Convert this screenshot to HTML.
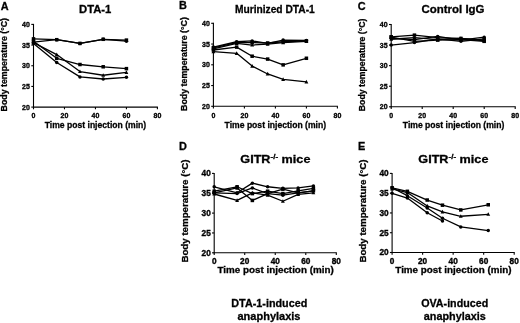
<!DOCTYPE html>
<html><head><meta charset="utf-8"><style>
html,body{margin:0;padding:0;background:#fff;width:520px;height:323px;overflow:hidden}
svg{display:block;will-change:transform}
text{font-family:"Liberation Sans", sans-serif;fill:#000;stroke:#000;stroke-width:0.3px}
.tk{stroke-width:0.35px}
</style></head><body>
<svg width="520" height="323" viewBox="0 0 520 323">
<line x1="33.5" y1="23.9" x2="33.5" y2="107.6" stroke="#000" stroke-width="1.1"/>
<line x1="33.0" y1="107.1" x2="157.9" y2="107.1" stroke="#000" stroke-width="1.1"/>
<line x1="31.3" y1="107.1" x2="33.5" y2="107.1" stroke="#000" stroke-width="1.1"/>
<text x="29.9" y="109.75" font-size="8.0" font-weight="bold" text-anchor="end" textLength="7.8" lengthAdjust="spacingAndGlyphs" class="tk">20</text>
<line x1="31.3" y1="86.425" x2="33.5" y2="86.425" stroke="#000" stroke-width="1.1"/>
<text x="29.9" y="89.08" font-size="8.0" font-weight="bold" text-anchor="end" textLength="7.8" lengthAdjust="spacingAndGlyphs" class="tk">25</text>
<line x1="31.3" y1="65.75" x2="33.5" y2="65.75" stroke="#000" stroke-width="1.1"/>
<text x="29.9" y="68.4" font-size="8.0" font-weight="bold" text-anchor="end" textLength="7.8" lengthAdjust="spacingAndGlyphs" class="tk">30</text>
<line x1="31.3" y1="45.075" x2="33.5" y2="45.075" stroke="#000" stroke-width="1.1"/>
<text x="29.9" y="47.73" font-size="8.0" font-weight="bold" text-anchor="end" textLength="7.8" lengthAdjust="spacingAndGlyphs" class="tk">35</text>
<line x1="31.3" y1="24.400000000000006" x2="33.5" y2="24.400000000000006" stroke="#000" stroke-width="1.1"/>
<text x="29.9" y="27.05" font-size="8.0" font-weight="bold" text-anchor="end" textLength="7.8" lengthAdjust="spacingAndGlyphs" class="tk">40</text>
<line x1="33.5" y1="107.1" x2="33.5" y2="109.3" stroke="#000" stroke-width="1.1"/>
<text x="33.5" y="117.9" font-size="8.0" font-weight="bold" text-anchor="middle" textLength="3.9" lengthAdjust="spacingAndGlyphs" class="tk">0</text>
<line x1="64.475" y1="107.1" x2="64.475" y2="109.3" stroke="#000" stroke-width="1.1"/>
<text x="64.47" y="117.9" font-size="8.0" font-weight="bold" text-anchor="middle" textLength="7.8" lengthAdjust="spacingAndGlyphs" class="tk">20</text>
<line x1="95.45" y1="107.1" x2="95.45" y2="109.3" stroke="#000" stroke-width="1.1"/>
<text x="95.45" y="117.9" font-size="8.0" font-weight="bold" text-anchor="middle" textLength="7.8" lengthAdjust="spacingAndGlyphs" class="tk">40</text>
<line x1="126.425" y1="107.1" x2="126.425" y2="109.3" stroke="#000" stroke-width="1.1"/>
<text x="126.42" y="117.9" font-size="8.0" font-weight="bold" text-anchor="middle" textLength="7.8" lengthAdjust="spacingAndGlyphs" class="tk">60</text>
<line x1="157.4" y1="107.1" x2="157.4" y2="109.3" stroke="#000" stroke-width="1.1"/>
<text x="157.4" y="117.9" font-size="8.0" font-weight="bold" text-anchor="middle" textLength="7.8" lengthAdjust="spacingAndGlyphs" class="tk">80</text>
<text x="44.7" y="128.0" font-size="9.5" font-weight="bold" textLength="101.5" lengthAdjust="spacingAndGlyphs">Time post injection (min)</text>
<text transform="translate(7.2,111.4) rotate(-90)" x="0" y="0" font-size="9.0" font-weight="bold" textLength="93.4" lengthAdjust="spacingAndGlyphs">Body temperature (°C)</text>
<polyline points="33.50,38.87 56.73,39.70 79.96,43.42 103.19,39.29 126.42,40.11" fill="none" stroke="#000" stroke-width="1.3" stroke-linejoin="round"/>
<rect x="31.75" y="37.12" width="3.5" height="3.5" fill="#000"/>
<rect x="54.98" y="37.95" width="3.5" height="3.5" fill="#000"/>
<rect x="78.21" y="41.67" width="3.5" height="3.5" fill="#000"/>
<rect x="101.44" y="37.54" width="3.5" height="3.5" fill="#000"/>
<rect x="124.67" y="38.36" width="3.5" height="3.5" fill="#000"/>
<polyline points="33.50,42.18 56.73,39.70 79.96,43.42 103.19,39.29 126.42,41.15" fill="none" stroke="#000" stroke-width="1.3" stroke-linejoin="round"/>
<circle cx="33.50" cy="42.18" r="1.75" fill="#000"/>
<circle cx="56.73" cy="39.70" r="1.75" fill="#000"/>
<circle cx="79.96" cy="43.42" r="1.75" fill="#000"/>
<circle cx="103.19" cy="39.29" r="1.75" fill="#000"/>
<circle cx="126.42" cy="41.15" r="1.75" fill="#000"/>
<polyline points="33.50,41.35 56.73,58.31 79.96,64.51 103.19,66.78 126.42,68.64" fill="none" stroke="#000" stroke-width="1.3" stroke-linejoin="round"/>
<rect x="31.75" y="39.60" width="3.5" height="3.5" fill="#000"/>
<rect x="54.98" y="56.56" width="3.5" height="3.5" fill="#000"/>
<rect x="78.21" y="62.76" width="3.5" height="3.5" fill="#000"/>
<rect x="101.44" y="65.03" width="3.5" height="3.5" fill="#000"/>
<rect x="124.67" y="66.89" width="3.5" height="3.5" fill="#000"/>
<polyline points="33.50,42.59 56.73,54.59 79.96,71.54 103.19,75.26 126.42,72.37" fill="none" stroke="#000" stroke-width="1.3" stroke-linejoin="round"/>
<polygon points="33.50,40.49 31.57,44.17 35.42,44.17" fill="#000"/>
<polygon points="56.73,52.49 54.81,56.16 58.66,56.16" fill="#000"/>
<polygon points="79.96,69.44 78.04,73.11 81.89,73.11" fill="#000"/>
<polygon points="103.19,73.16 101.27,76.84 105.12,76.84" fill="#000"/>
<polygon points="126.42,70.27 124.50,73.94 128.35,73.94" fill="#000"/>
<polyline points="33.50,43.42 56.73,62.44 79.96,76.91 103.19,78.98 126.42,77.33" fill="none" stroke="#000" stroke-width="1.3" stroke-linejoin="round"/>
<circle cx="33.50" cy="43.42" r="1.75" fill="#000"/>
<circle cx="56.73" cy="62.44" r="1.75" fill="#000"/>
<circle cx="79.96" cy="76.91" r="1.75" fill="#000"/>
<circle cx="103.19" cy="78.98" r="1.75" fill="#000"/>
<circle cx="126.42" cy="77.33" r="1.75" fill="#000"/>
<line x1="213.4" y1="22.8" x2="213.4" y2="106.8" stroke="#000" stroke-width="1.1"/>
<line x1="212.9" y1="106.3" x2="337.9" y2="106.3" stroke="#000" stroke-width="1.1"/>
<line x1="211.20000000000002" y1="106.3" x2="213.4" y2="106.3" stroke="#000" stroke-width="1.1"/>
<text x="209.8" y="108.95" font-size="8.0" font-weight="bold" text-anchor="end" textLength="7.8" lengthAdjust="spacingAndGlyphs" class="tk">20</text>
<line x1="211.20000000000002" y1="85.55" x2="213.4" y2="85.55" stroke="#000" stroke-width="1.1"/>
<text x="209.8" y="88.2" font-size="8.0" font-weight="bold" text-anchor="end" textLength="7.8" lengthAdjust="spacingAndGlyphs" class="tk">25</text>
<line x1="211.20000000000002" y1="64.8" x2="213.4" y2="64.8" stroke="#000" stroke-width="1.1"/>
<text x="209.8" y="67.45" font-size="8.0" font-weight="bold" text-anchor="end" textLength="7.8" lengthAdjust="spacingAndGlyphs" class="tk">30</text>
<line x1="211.20000000000002" y1="44.05" x2="213.4" y2="44.05" stroke="#000" stroke-width="1.1"/>
<text x="209.8" y="46.7" font-size="8.0" font-weight="bold" text-anchor="end" textLength="7.8" lengthAdjust="spacingAndGlyphs" class="tk">35</text>
<line x1="211.20000000000002" y1="23.299999999999997" x2="213.4" y2="23.299999999999997" stroke="#000" stroke-width="1.1"/>
<text x="209.8" y="25.95" font-size="8.0" font-weight="bold" text-anchor="end" textLength="7.8" lengthAdjust="spacingAndGlyphs" class="tk">40</text>
<line x1="213.4" y1="106.3" x2="213.4" y2="108.5" stroke="#000" stroke-width="1.1"/>
<text x="213.4" y="117.9" font-size="8.0" font-weight="bold" text-anchor="middle" textLength="3.9" lengthAdjust="spacingAndGlyphs" class="tk">0</text>
<line x1="244.4" y1="106.3" x2="244.4" y2="108.5" stroke="#000" stroke-width="1.1"/>
<text x="244.4" y="117.9" font-size="8.0" font-weight="bold" text-anchor="middle" textLength="7.8" lengthAdjust="spacingAndGlyphs" class="tk">20</text>
<line x1="275.4" y1="106.3" x2="275.4" y2="108.5" stroke="#000" stroke-width="1.1"/>
<text x="275.4" y="117.9" font-size="8.0" font-weight="bold" text-anchor="middle" textLength="7.8" lengthAdjust="spacingAndGlyphs" class="tk">40</text>
<line x1="306.4" y1="106.3" x2="306.4" y2="108.5" stroke="#000" stroke-width="1.1"/>
<text x="306.4" y="117.9" font-size="8.0" font-weight="bold" text-anchor="middle" textLength="7.8" lengthAdjust="spacingAndGlyphs" class="tk">60</text>
<line x1="337.4" y1="106.3" x2="337.4" y2="108.5" stroke="#000" stroke-width="1.1"/>
<text x="337.4" y="117.9" font-size="8.0" font-weight="bold" text-anchor="middle" textLength="7.8" lengthAdjust="spacingAndGlyphs" class="tk">80</text>
<text x="224.6" y="128.0" font-size="9.5" font-weight="bold" textLength="101.5" lengthAdjust="spacingAndGlyphs">Time post injection (min)</text>
<text transform="translate(187.4,110.95) rotate(-90)" x="0" y="0" font-size="9.0" font-weight="bold" textLength="93.8" lengthAdjust="spacingAndGlyphs">Body temperature (°C)</text>
<polyline points="213.40,47.11 236.65,41.75 252.15,40.92 267.65,43.40 283.15,40.09 306.40,40.51" fill="none" stroke="#000" stroke-width="1.3" stroke-linejoin="round"/>
<circle cx="213.40" cy="47.11" r="1.75" fill="#000"/>
<circle cx="236.65" cy="41.75" r="1.75" fill="#000"/>
<circle cx="252.15" cy="40.92" r="1.75" fill="#000"/>
<circle cx="267.65" cy="43.40" r="1.75" fill="#000"/>
<circle cx="283.15" cy="40.09" r="1.75" fill="#000"/>
<circle cx="306.40" cy="40.51" r="1.75" fill="#000"/>
<polyline points="213.40,47.94 236.65,42.57 252.15,42.57 267.65,42.98 283.15,41.75 306.40,40.92" fill="none" stroke="#000" stroke-width="1.3" stroke-linejoin="round"/>
<rect x="211.65" y="46.19" width="3.5" height="3.5" fill="#000"/>
<rect x="234.90" y="40.82" width="3.5" height="3.5" fill="#000"/>
<rect x="250.40" y="40.82" width="3.5" height="3.5" fill="#000"/>
<rect x="265.90" y="41.23" width="3.5" height="3.5" fill="#000"/>
<rect x="281.40" y="40.00" width="3.5" height="3.5" fill="#000"/>
<rect x="304.65" y="39.17" width="3.5" height="3.5" fill="#000"/>
<polyline points="213.40,48.77 236.65,43.40 252.15,45.05 267.65,44.22 283.15,42.57 306.40,41.33" fill="none" stroke="#000" stroke-width="1.3" stroke-linejoin="round"/>
<polygon points="213.40,46.67 211.47,50.34 215.33,50.34" fill="#000"/>
<polygon points="236.65,41.30 234.72,44.97 238.58,44.97" fill="#000"/>
<polygon points="252.15,42.95 250.22,46.62 254.07,46.62" fill="#000"/>
<polygon points="267.65,42.12 265.72,45.80 269.57,45.80" fill="#000"/>
<polygon points="283.15,40.47 281.22,44.15 285.07,44.15" fill="#000"/>
<polygon points="306.40,39.23 304.47,42.91 308.32,42.91" fill="#000"/>
<polyline points="213.40,50.01 236.65,47.11 252.15,56.20 267.65,59.09 283.15,64.87 306.40,58.27" fill="none" stroke="#000" stroke-width="1.3" stroke-linejoin="round"/>
<rect x="211.65" y="48.26" width="3.5" height="3.5" fill="#000"/>
<rect x="234.90" y="45.36" width="3.5" height="3.5" fill="#000"/>
<rect x="250.40" y="54.45" width="3.5" height="3.5" fill="#000"/>
<rect x="265.90" y="57.34" width="3.5" height="3.5" fill="#000"/>
<rect x="281.40" y="63.12" width="3.5" height="3.5" fill="#000"/>
<rect x="304.65" y="56.52" width="3.5" height="3.5" fill="#000"/>
<polyline points="213.40,51.66 236.65,53.31 252.15,66.11 267.65,73.96 283.15,79.33 306.40,81.81" fill="none" stroke="#000" stroke-width="1.3" stroke-linejoin="round"/>
<polygon points="213.40,49.56 211.47,53.23 215.33,53.23" fill="#000"/>
<polygon points="236.65,51.21 234.72,54.89 238.58,54.89" fill="#000"/>
<polygon points="252.15,64.01 250.22,67.69 254.07,67.69" fill="#000"/>
<polygon points="267.65,71.86 265.72,75.54 269.57,75.54" fill="#000"/>
<polygon points="283.15,77.23 281.22,80.90 285.07,80.90" fill="#000"/>
<polygon points="306.40,79.71 304.47,83.38 308.32,83.38" fill="#000"/>
<line x1="391.2" y1="24.0" x2="391.2" y2="107.3" stroke="#000" stroke-width="1.1"/>
<line x1="390.7" y1="106.8" x2="515.7" y2="106.8" stroke="#000" stroke-width="1.1"/>
<line x1="389.0" y1="106.8" x2="391.2" y2="106.8" stroke="#000" stroke-width="1.1"/>
<text x="387.59999999999997" y="109.45" font-size="8.0" font-weight="bold" text-anchor="end" textLength="7.8" lengthAdjust="spacingAndGlyphs" class="tk">20</text>
<line x1="389.0" y1="86.225" x2="391.2" y2="86.225" stroke="#000" stroke-width="1.1"/>
<text x="387.59999999999997" y="88.88" font-size="8.0" font-weight="bold" text-anchor="end" textLength="7.8" lengthAdjust="spacingAndGlyphs" class="tk">25</text>
<line x1="389.0" y1="65.65" x2="391.2" y2="65.65" stroke="#000" stroke-width="1.1"/>
<text x="387.59999999999997" y="68.3" font-size="8.0" font-weight="bold" text-anchor="end" textLength="7.8" lengthAdjust="spacingAndGlyphs" class="tk">30</text>
<line x1="389.0" y1="45.074999999999996" x2="391.2" y2="45.074999999999996" stroke="#000" stroke-width="1.1"/>
<text x="387.59999999999997" y="47.72" font-size="8.0" font-weight="bold" text-anchor="end" textLength="7.8" lengthAdjust="spacingAndGlyphs" class="tk">35</text>
<line x1="389.0" y1="24.5" x2="391.2" y2="24.5" stroke="#000" stroke-width="1.1"/>
<text x="387.59999999999997" y="27.15" font-size="8.0" font-weight="bold" text-anchor="end" textLength="7.8" lengthAdjust="spacingAndGlyphs" class="tk">40</text>
<line x1="391.2" y1="106.8" x2="391.2" y2="109.0" stroke="#000" stroke-width="1.1"/>
<text x="391.2" y="117.9" font-size="8.0" font-weight="bold" text-anchor="middle" textLength="3.9" lengthAdjust="spacingAndGlyphs" class="tk">0</text>
<line x1="422.2" y1="106.8" x2="422.2" y2="109.0" stroke="#000" stroke-width="1.1"/>
<text x="422.2" y="117.9" font-size="8.0" font-weight="bold" text-anchor="middle" textLength="7.8" lengthAdjust="spacingAndGlyphs" class="tk">20</text>
<line x1="453.2" y1="106.8" x2="453.2" y2="109.0" stroke="#000" stroke-width="1.1"/>
<text x="453.2" y="117.9" font-size="8.0" font-weight="bold" text-anchor="middle" textLength="7.8" lengthAdjust="spacingAndGlyphs" class="tk">40</text>
<line x1="484.20000000000005" y1="106.8" x2="484.20000000000005" y2="109.0" stroke="#000" stroke-width="1.1"/>
<text x="484.2" y="117.9" font-size="8.0" font-weight="bold" text-anchor="middle" textLength="7.8" lengthAdjust="spacingAndGlyphs" class="tk">60</text>
<line x1="515.2" y1="106.8" x2="515.2" y2="109.0" stroke="#000" stroke-width="1.1"/>
<text x="515.2" y="117.9" font-size="8.0" font-weight="bold" text-anchor="middle" textLength="7.8" lengthAdjust="spacingAndGlyphs" class="tk">80</text>
<text x="402.8" y="128.0" font-size="9.5" font-weight="bold" textLength="101.5" lengthAdjust="spacingAndGlyphs">Time post injection (min)</text>
<text transform="translate(365.2,111.2) rotate(-90)" x="0" y="0" font-size="9.0" font-weight="bold" textLength="92.6" lengthAdjust="spacingAndGlyphs">Body temperature (°C)</text>
<polyline points="391.20,36.79 414.45,35.14 437.70,37.62 460.95,38.44 484.20,40.09" fill="none" stroke="#000" stroke-width="1.3" stroke-linejoin="round"/>
<rect x="389.45" y="35.04" width="3.5" height="3.5" fill="#000"/>
<rect x="412.70" y="33.39" width="3.5" height="3.5" fill="#000"/>
<rect x="435.95" y="35.87" width="3.5" height="3.5" fill="#000"/>
<rect x="459.20" y="36.69" width="3.5" height="3.5" fill="#000"/>
<rect x="482.45" y="38.34" width="3.5" height="3.5" fill="#000"/>
<polyline points="391.20,38.44 414.45,39.68 437.70,36.38 460.95,40.09 484.20,37.20" fill="none" stroke="#000" stroke-width="1.3" stroke-linejoin="round"/>
<circle cx="391.20" cy="38.44" r="1.75" fill="#000"/>
<circle cx="414.45" cy="39.68" r="1.75" fill="#000"/>
<circle cx="437.70" cy="36.38" r="1.75" fill="#000"/>
<circle cx="460.95" cy="40.09" r="1.75" fill="#000"/>
<circle cx="484.20" cy="37.20" r="1.75" fill="#000"/>
<polyline points="391.20,39.27 414.45,37.62 437.70,39.68 460.95,38.44 484.20,40.92" fill="none" stroke="#000" stroke-width="1.3" stroke-linejoin="round"/>
<polygon points="391.20,37.17 389.27,40.84 393.12,40.84" fill="#000"/>
<polygon points="414.45,35.52 412.52,39.19 416.38,39.19" fill="#000"/>
<polygon points="437.70,37.58 435.77,41.26 439.62,41.26" fill="#000"/>
<polygon points="460.95,36.34 459.03,40.02 462.88,40.02" fill="#000"/>
<polygon points="484.20,38.82 482.28,42.50 486.13,42.50" fill="#000"/>
<polyline points="391.20,45.05 414.45,42.57 437.70,38.85 460.95,41.33 484.20,38.85" fill="none" stroke="#000" stroke-width="1.3" stroke-linejoin="round"/>
<circle cx="391.20" cy="45.05" r="1.75" fill="#000"/>
<circle cx="414.45" cy="42.57" r="1.75" fill="#000"/>
<circle cx="437.70" cy="38.85" r="1.75" fill="#000"/>
<circle cx="460.95" cy="41.33" r="1.75" fill="#000"/>
<circle cx="484.20" cy="38.85" r="1.75" fill="#000"/>
<polyline points="391.20,37.20 414.45,41.33 437.70,40.09 460.95,39.68 484.20,41.33" fill="none" stroke="#000" stroke-width="1.3" stroke-linejoin="round"/>
<rect x="389.45" y="35.45" width="3.5" height="3.5" fill="#000"/>
<rect x="412.70" y="39.58" width="3.5" height="3.5" fill="#000"/>
<rect x="435.95" y="38.34" width="3.5" height="3.5" fill="#000"/>
<rect x="459.20" y="37.93" width="3.5" height="3.5" fill="#000"/>
<rect x="482.45" y="39.58" width="3.5" height="3.5" fill="#000"/>
<line x1="214.2" y1="172.9" x2="214.2" y2="253.3" stroke="#000" stroke-width="1.1"/>
<line x1="213.7" y1="252.8" x2="336.8" y2="252.8" stroke="#000" stroke-width="1.1"/>
<line x1="212.0" y1="252.8" x2="214.2" y2="252.8" stroke="#000" stroke-width="1.1"/>
<text x="210.79999999999998" y="255.7" font-size="8.4" font-weight="bold" text-anchor="end" textLength="9.2" lengthAdjust="spacingAndGlyphs" class="tk">20</text>
<line x1="212.0" y1="232.95000000000002" x2="214.2" y2="232.95000000000002" stroke="#000" stroke-width="1.1"/>
<text x="210.79999999999998" y="235.85" font-size="8.4" font-weight="bold" text-anchor="end" textLength="9.2" lengthAdjust="spacingAndGlyphs" class="tk">25</text>
<line x1="212.0" y1="213.10000000000002" x2="214.2" y2="213.10000000000002" stroke="#000" stroke-width="1.1"/>
<text x="210.79999999999998" y="216.0" font-size="8.4" font-weight="bold" text-anchor="end" textLength="9.2" lengthAdjust="spacingAndGlyphs" class="tk">30</text>
<line x1="212.0" y1="193.25" x2="214.2" y2="193.25" stroke="#000" stroke-width="1.1"/>
<text x="210.79999999999998" y="196.15" font-size="8.4" font-weight="bold" text-anchor="end" textLength="9.2" lengthAdjust="spacingAndGlyphs" class="tk">35</text>
<line x1="212.0" y1="173.4" x2="214.2" y2="173.4" stroke="#000" stroke-width="1.1"/>
<text x="210.79999999999998" y="176.3" font-size="8.4" font-weight="bold" text-anchor="end" textLength="9.2" lengthAdjust="spacingAndGlyphs" class="tk">40</text>
<line x1="214.2" y1="252.8" x2="214.2" y2="255.0" stroke="#000" stroke-width="1.1"/>
<text x="214.2" y="264.1" font-size="8.4" font-weight="bold" text-anchor="middle" textLength="4.6" lengthAdjust="spacingAndGlyphs" class="tk">0</text>
<line x1="244.725" y1="252.8" x2="244.725" y2="255.0" stroke="#000" stroke-width="1.1"/>
<text x="244.72" y="264.1" font-size="8.4" font-weight="bold" text-anchor="middle" textLength="9.2" lengthAdjust="spacingAndGlyphs" class="tk">20</text>
<line x1="275.25" y1="252.8" x2="275.25" y2="255.0" stroke="#000" stroke-width="1.1"/>
<text x="275.25" y="264.1" font-size="8.4" font-weight="bold" text-anchor="middle" textLength="9.2" lengthAdjust="spacingAndGlyphs" class="tk">40</text>
<line x1="305.775" y1="252.8" x2="305.775" y2="255.0" stroke="#000" stroke-width="1.1"/>
<text x="305.77" y="264.1" font-size="8.4" font-weight="bold" text-anchor="middle" textLength="9.2" lengthAdjust="spacingAndGlyphs" class="tk">60</text>
<line x1="336.3" y1="252.8" x2="336.3" y2="255.0" stroke="#000" stroke-width="1.1"/>
<text x="336.3" y="264.1" font-size="8.4" font-weight="bold" text-anchor="middle" textLength="9.2" lengthAdjust="spacingAndGlyphs" class="tk">80</text>
<text x="217.4" y="273.3" font-size="9.4" font-weight="bold" textLength="116.3" lengthAdjust="spacingAndGlyphs">Time post injection (min)</text>
<text transform="translate(188.0,262.6) rotate(-90)" x="0" y="0" font-size="9.5" font-weight="bold" textLength="103.2" lengthAdjust="spacingAndGlyphs">Body temperature (°C)</text>
<polyline points="214.20,186.77 237.09,192.80 252.36,183.15 267.62,186.77 282.88,188.37 298.14,187.97 313.41,185.96" fill="none" stroke="#000" stroke-width="1.3" stroke-linejoin="round"/>
<circle cx="214.20" cy="186.77" r="1.75" fill="#000"/>
<circle cx="237.09" cy="192.80" r="1.75" fill="#000"/>
<circle cx="252.36" cy="183.15" r="1.75" fill="#000"/>
<circle cx="267.62" cy="186.77" r="1.75" fill="#000"/>
<circle cx="282.88" cy="188.37" r="1.75" fill="#000"/>
<circle cx="298.14" cy="187.97" r="1.75" fill="#000"/>
<circle cx="313.41" cy="185.96" r="1.75" fill="#000"/>
<polyline points="214.20,191.19 237.09,186.77 252.36,193.60 267.62,191.19 282.88,193.60 298.14,190.79 313.41,188.37" fill="none" stroke="#000" stroke-width="1.3" stroke-linejoin="round"/>
<rect x="212.45" y="189.44" width="3.5" height="3.5" fill="#000"/>
<rect x="235.34" y="185.02" width="3.5" height="3.5" fill="#000"/>
<rect x="250.61" y="191.85" width="3.5" height="3.5" fill="#000"/>
<rect x="265.87" y="189.44" width="3.5" height="3.5" fill="#000"/>
<rect x="281.13" y="191.85" width="3.5" height="3.5" fill="#000"/>
<rect x="296.39" y="189.04" width="3.5" height="3.5" fill="#000"/>
<rect x="311.66" y="186.62" width="3.5" height="3.5" fill="#000"/>
<polyline points="214.20,192.80 237.09,193.60 252.36,187.97 267.62,193.60 282.88,195.21 298.14,192.80 313.41,190.79" fill="none" stroke="#000" stroke-width="1.3" stroke-linejoin="round"/>
<circle cx="214.20" cy="192.80" r="1.75" fill="#000"/>
<circle cx="237.09" cy="193.60" r="1.75" fill="#000"/>
<circle cx="252.36" cy="187.97" r="1.75" fill="#000"/>
<circle cx="267.62" cy="193.60" r="1.75" fill="#000"/>
<circle cx="282.88" cy="195.21" r="1.75" fill="#000"/>
<circle cx="298.14" cy="192.80" r="1.75" fill="#000"/>
<circle cx="313.41" cy="190.79" r="1.75" fill="#000"/>
<polyline points="214.20,194.00 237.09,200.43 252.36,192.80 267.62,195.21 282.88,201.24 298.14,194.40 313.41,192.80" fill="none" stroke="#000" stroke-width="1.3" stroke-linejoin="round"/>
<polygon points="214.20,191.90 212.27,195.58 216.12,195.58" fill="#000"/>
<polygon points="237.09,198.33 235.17,202.01 239.02,202.01" fill="#000"/>
<polygon points="252.36,190.70 250.43,194.37 254.28,194.37" fill="#000"/>
<polygon points="267.62,193.11 265.69,196.78 269.54,196.78" fill="#000"/>
<polygon points="282.88,199.14 280.96,202.81 284.81,202.81" fill="#000"/>
<polygon points="298.14,192.30 296.22,195.98 300.07,195.98" fill="#000"/>
<polygon points="313.41,190.70 311.48,194.37 315.33,194.37" fill="#000"/>
<polyline points="214.20,192.80 237.09,187.97 252.36,200.43 267.62,193.60 282.88,189.18 298.14,192.80 313.41,190.79" fill="none" stroke="#000" stroke-width="1.3" stroke-linejoin="round"/>
<rect x="212.45" y="191.05" width="3.5" height="3.5" fill="#000"/>
<rect x="235.34" y="186.22" width="3.5" height="3.5" fill="#000"/>
<rect x="250.61" y="198.68" width="3.5" height="3.5" fill="#000"/>
<rect x="265.87" y="191.85" width="3.5" height="3.5" fill="#000"/>
<rect x="281.13" y="187.43" width="3.5" height="3.5" fill="#000"/>
<rect x="296.39" y="191.05" width="3.5" height="3.5" fill="#000"/>
<rect x="311.66" y="189.04" width="3.5" height="3.5" fill="#000"/>
<line x1="392.1" y1="172.9" x2="392.1" y2="253.0" stroke="#000" stroke-width="1.1"/>
<line x1="391.6" y1="252.5" x2="514.7" y2="252.5" stroke="#000" stroke-width="1.1"/>
<line x1="389.90000000000003" y1="252.5" x2="392.1" y2="252.5" stroke="#000" stroke-width="1.1"/>
<text x="388.70000000000005" y="255.4" font-size="8.4" font-weight="bold" text-anchor="end" textLength="9.2" lengthAdjust="spacingAndGlyphs" class="tk">20</text>
<line x1="389.90000000000003" y1="232.725" x2="392.1" y2="232.725" stroke="#000" stroke-width="1.1"/>
<text x="388.70000000000005" y="235.62" font-size="8.4" font-weight="bold" text-anchor="end" textLength="9.2" lengthAdjust="spacingAndGlyphs" class="tk">25</text>
<line x1="389.90000000000003" y1="212.95" x2="392.1" y2="212.95" stroke="#000" stroke-width="1.1"/>
<text x="388.70000000000005" y="215.85" font-size="8.4" font-weight="bold" text-anchor="end" textLength="9.2" lengthAdjust="spacingAndGlyphs" class="tk">30</text>
<line x1="389.90000000000003" y1="193.175" x2="392.1" y2="193.175" stroke="#000" stroke-width="1.1"/>
<text x="388.70000000000005" y="196.08" font-size="8.4" font-weight="bold" text-anchor="end" textLength="9.2" lengthAdjust="spacingAndGlyphs" class="tk">35</text>
<line x1="389.90000000000003" y1="173.4" x2="392.1" y2="173.4" stroke="#000" stroke-width="1.1"/>
<text x="388.70000000000005" y="176.3" font-size="8.4" font-weight="bold" text-anchor="end" textLength="9.2" lengthAdjust="spacingAndGlyphs" class="tk">40</text>
<line x1="392.1" y1="252.5" x2="392.1" y2="254.7" stroke="#000" stroke-width="1.1"/>
<text x="392.1" y="264.1" font-size="8.4" font-weight="bold" text-anchor="middle" textLength="4.6" lengthAdjust="spacingAndGlyphs" class="tk">0</text>
<line x1="422.625" y1="252.5" x2="422.625" y2="254.7" stroke="#000" stroke-width="1.1"/>
<text x="422.62" y="264.1" font-size="8.4" font-weight="bold" text-anchor="middle" textLength="9.2" lengthAdjust="spacingAndGlyphs" class="tk">20</text>
<line x1="453.15000000000003" y1="252.5" x2="453.15000000000003" y2="254.7" stroke="#000" stroke-width="1.1"/>
<text x="453.15" y="264.1" font-size="8.4" font-weight="bold" text-anchor="middle" textLength="9.2" lengthAdjust="spacingAndGlyphs" class="tk">40</text>
<line x1="483.67500000000007" y1="252.5" x2="483.67500000000007" y2="254.7" stroke="#000" stroke-width="1.1"/>
<text x="483.68" y="264.1" font-size="8.4" font-weight="bold" text-anchor="middle" textLength="9.2" lengthAdjust="spacingAndGlyphs" class="tk">60</text>
<line x1="514.2" y1="252.5" x2="514.2" y2="254.7" stroke="#000" stroke-width="1.1"/>
<text x="514.2" y="264.1" font-size="8.4" font-weight="bold" text-anchor="middle" textLength="9.2" lengthAdjust="spacingAndGlyphs" class="tk">80</text>
<text x="395.3" y="273.3" font-size="9.4" font-weight="bold" textLength="116.3" lengthAdjust="spacingAndGlyphs">Time post injection (min)</text>
<text transform="translate(365.5,262.6) rotate(-90)" x="0" y="0" font-size="9.5" font-weight="bold" textLength="103.2" lengthAdjust="spacingAndGlyphs">Body temperature (°C)</text>
<polyline points="392.10,187.76 407.36,191.32 427.20,200.03 442.47,205.18 460.78,209.93 488.25,204.78" fill="none" stroke="#000" stroke-width="1.3" stroke-linejoin="round"/>
<rect x="390.35" y="186.01" width="3.5" height="3.5" fill="#000"/>
<rect x="405.61" y="189.57" width="3.5" height="3.5" fill="#000"/>
<rect x="425.45" y="198.28" width="3.5" height="3.5" fill="#000"/>
<rect x="440.72" y="203.43" width="3.5" height="3.5" fill="#000"/>
<rect x="459.03" y="208.18" width="3.5" height="3.5" fill="#000"/>
<rect x="486.50" y="203.03" width="3.5" height="3.5" fill="#000"/>
<polyline points="392.10,188.94 407.36,192.51 427.20,205.97 442.47,211.91 460.78,216.27 488.25,214.29" fill="none" stroke="#000" stroke-width="1.3" stroke-linejoin="round"/>
<polygon points="392.10,186.84 390.18,190.52 394.03,190.52" fill="#000"/>
<polygon points="407.36,190.41 405.44,194.08 409.29,194.08" fill="#000"/>
<polygon points="427.20,203.87 425.28,207.55 429.13,207.55" fill="#000"/>
<polygon points="442.47,209.81 440.54,213.49 444.39,213.49" fill="#000"/>
<polygon points="460.78,214.17 458.86,217.84 462.71,217.84" fill="#000"/>
<polygon points="488.25,212.19 486.33,215.86 490.18,215.86" fill="#000"/>
<polyline points="392.10,187.76 407.36,195.68 427.20,207.95 442.47,218.25 460.78,226.96 488.25,230.52" fill="none" stroke="#000" stroke-width="1.3" stroke-linejoin="round"/>
<circle cx="392.10" cy="187.76" r="1.75" fill="#000"/>
<circle cx="407.36" cy="195.68" r="1.75" fill="#000"/>
<circle cx="427.20" cy="207.95" r="1.75" fill="#000"/>
<circle cx="442.47" cy="218.25" r="1.75" fill="#000"/>
<circle cx="460.78" cy="226.96" r="1.75" fill="#000"/>
<circle cx="488.25" cy="230.52" r="1.75" fill="#000"/>
<polyline points="392.10,193.30 407.36,198.05 427.20,212.70 442.47,221.02" fill="none" stroke="#000" stroke-width="1.3" stroke-linejoin="round"/>
<circle cx="392.10" cy="193.30" r="1.75" fill="#000"/>
<circle cx="407.36" cy="198.05" r="1.75" fill="#000"/>
<circle cx="427.20" cy="212.70" r="1.75" fill="#000"/>
<circle cx="442.47" cy="221.02" r="1.75" fill="#000"/>
<text x="0.7" y="9.5" font-size="10.9" font-weight="bold">A</text>
<text x="179.0" y="9.4" font-size="10.9" font-weight="bold">B</text>
<text x="357.8" y="9.5" font-size="10.9" font-weight="bold">C</text>
<text x="179.0" y="150.0" font-size="10.9" font-weight="bold">D</text>
<text x="357.9" y="150.0" font-size="10.9" font-weight="bold">E</text>
<text x="79.0" y="12.6" font-size="11" font-weight="bold" textLength="32.3" lengthAdjust="spacingAndGlyphs">DTA-1</text>
<text x="234.9" y="12.8" font-size="11" font-weight="bold" textLength="79.9" lengthAdjust="spacingAndGlyphs">Murinized DTA-1</text>
<text x="421.5" y="12.5" font-size="11" font-weight="bold" textLength="63.0" lengthAdjust="spacingAndGlyphs">Control IgG</text>
<text transform="translate(240.3,162.8) scale(1.15,1)" x="0" y="0" font-size="11" font-weight="bold">GITR<tspan font-size="7" dy="-4">-/-</tspan><tspan dy="4"> mice</tspan></text>
<text transform="translate(418.3,162.8) scale(1.15,1)" x="0" y="0" font-size="11" font-weight="bold">GITR<tspan font-size="7" dy="-4">-/-</tspan><tspan dy="4"> mice</tspan></text>
<text x="269.3" y="307.4" font-size="11" font-weight="bold" text-anchor="middle" textLength="76.0" lengthAdjust="spacingAndGlyphs">DTA-1-induced</text>
<text x="269.0" y="320.0" font-size="11" font-weight="bold" text-anchor="middle" textLength="63.0" lengthAdjust="spacingAndGlyphs">anaphylaxis</text>
<text x="454.7" y="307.4" font-size="11" font-weight="bold" text-anchor="middle" textLength="67.0" lengthAdjust="spacingAndGlyphs">OVA-induced</text>
<text x="454.8" y="320.0" font-size="11" font-weight="bold" text-anchor="middle" textLength="62.0" lengthAdjust="spacingAndGlyphs">anaphylaxis</text>
</svg>
</body></html>
